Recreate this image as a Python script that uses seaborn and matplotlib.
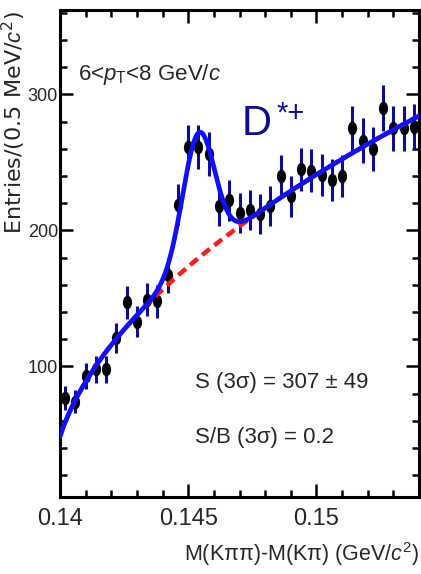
import numpy as np
import pandas as pd
import matplotlib
matplotlib.use("Agg")
import matplotlib.pyplot as plt
import seaborn as sns
from matplotlib.path import Path
from matplotlib.transforms import Affine2D
from matplotlib.ticker import MultipleLocator

# Delta-M histogram: bin centres (GeV/c^2), entries and statistical errors
mass = [0.1402, 0.1406, 0.1410, 0.1414, 0.1418, 0.1422, 0.1426, 0.1430, 0.1434,
        0.1438, 0.1442, 0.1446, 0.1450, 0.1454, 0.1458, 0.1462, 0.1466, 0.1470,
        0.1474, 0.1478, 0.1482, 0.1486, 0.1490, 0.1494, 0.1498, 0.1502, 0.1506,
        0.1510, 0.1514, 0.1518, 0.1522, 0.1526, 0.1530, 0.1534, 0.1538]
entries = [77, 74, 93, 98, 98, 121, 147, 133, 149,
           148, 167, 219, 261, 261, 256, 218, 222, 213,
           215, 212, 218, 240, 225, 245, 244, 241, 237,
           240, 275, 266, 260, 290, 275, 275, 276]
errors = [8.8, 8.6, 9.6, 9.9, 9.9, 11.0, 12.1, 11.5, 12.2,
          12.2, 12.9, 14.8, 16.2, 16.2, 16.0, 14.8, 14.9, 14.6,
          14.7, 14.6, 14.8, 15.5, 15.0, 15.7, 15.6, 15.5, 15.4,
          15.5, 16.6, 16.3, 16.1, 17.0, 16.6, 16.6, 16.6]

# Fit result: background A*sqrt(dM-m_pi)*exp(C*(dM-m_pi)) plus a Gaussian signal
bkg_A, bkg_B, bkg_C, m_pi = 2345.0, 0.5, 0.6, 0.13957
sig_amp, sig_mean, sig_sigma = 92.0, 0.14540, 0.00062

x_range = (0.140, 0.154)
y_range = (4, 362)
x_ticks = [0.14, 0.145, 0.15]
x_tick_labels = ["0.14", "0.145", "0.15"]
y_ticks = [100, 200, 300]
y_tick_labels = ["100", "200", "300"]

sns.set_style("ticks")
plt.rcParams["font.family"] = ["Liberation Sans", "DejaVu Sans"]
plt.rcParams["mathtext.fontset"] = "custom"
plt.rcParams["mathtext.rm"] = "Liberation Sans"
plt.rcParams["mathtext.it"] = "Liberation Sans:italic"
plt.rcParams["mathtext.sf"] = "Liberation Sans"
plt.rcParams["mathtext.default"] = "regular"

fig = plt.figure(figsize=(4.21, 5.74), dpi=100)
ax = fig.add_axes([60 / 421, 77 / 574, 359 / 421, 487 / 574])

# fit functions evaluated on a fine grid
dm = np.linspace(x_range[0], x_range[1], 400)
bkg = bkg_A * (dm - m_pi) ** bkg_B * np.exp(bkg_C * (dm - m_pi))
total = bkg + sig_amp * np.exp(-0.5 * ((dm - sig_mean) / sig_sigma) ** 2)
fit_df = pd.DataFrame({"dm": dm, "bkg": bkg, "total": total})

# data points: vertical error bars and elliptical markers
ax.errorbar(mass, entries, yerr=errors, fmt="none", ecolor="#0c0c96",
            elinewidth=2.2, capsize=0, zorder=3)
ellipse = Path.unit_circle().transformed(Affine2D().scale(0.68, 1.0))
sns.scatterplot(x=mass, y=entries, ax=ax, marker=ellipse, s=95,
                color="black", linewidth=0, zorder=4)

sns.lineplot(data=fit_df, x="dm", y="bkg", ax=ax, color="#ff1a1a",
             linewidth=3.2, zorder=5)
ax.lines[-1].set_dashes((2.2, 1.3))
sns.lineplot(data=fit_df, x="dm", y="total", ax=ax, color="#1010ff",
             linewidth=3.4, zorder=6)

ax.set_xlim(*x_range)
ax.set_ylim(*y_range)
ax.set_xticks(x_ticks, x_tick_labels)
ax.set_yticks(y_ticks, y_tick_labels)
ax.xaxis.set_minor_locator(MultipleLocator(0.001))
ax.yaxis.set_minor_locator(MultipleLocator(20))
ax.tick_params(which="both", direction="in", top=True, right=True,
               width=1.8, color="black")
ax.tick_params(which="major", length=9.5)
ax.tick_params(which="minor", length=5)
ax.tick_params(axis="x", which="major", labelsize=17, pad=8)
ax.tick_params(axis="y", which="major", labelsize=13, pad=1.5)
for sp in ax.spines.values():
    sp.set_linewidth(2.2)
    sp.set_color("black")

ax.set_xlabel(r"M(K$\pi\pi$)-M(K$\pi$) (GeV/$\mathit{c}^{2}$)", fontsize=15.5,
              loc="right")
ax.xaxis.set_label_coords(1.0, -0.088)
ax.set_ylabel(r"Entries/(0.5 MeV/$\mathit{c}^{2}$)", fontsize=16, loc="top",
              family=["DejaVu Sans"])
ax.yaxis.set_label_coords(-0.0905, 0.998)

ax.text(0.05, 0.856, r"6<$\mathit{p}_{\mathrm{T}}$<8 GeV/$\mathit{c}$",
        transform=ax.transAxes, fontsize=16, va="baseline")
ax.text(0.507, 0.743, "D", transform=ax.transAxes, fontsize=30,
        color="#0c0c96", va="baseline")
ax.text(0.602, 0.770, "*+", transform=ax.transAxes, fontsize=21,
        color="#0c0c96", va="baseline")
ax.text(0.376, 0.224, "S (3σ) = 307 ± 49", transform=ax.transAxes,
        fontsize=16, va="baseline")
ax.text(0.376, 0.111, "S/B (3σ) = 0.2", transform=ax.transAxes,
        fontsize=16, va="baseline")

fig.savefig("out.png", dpi=100)
